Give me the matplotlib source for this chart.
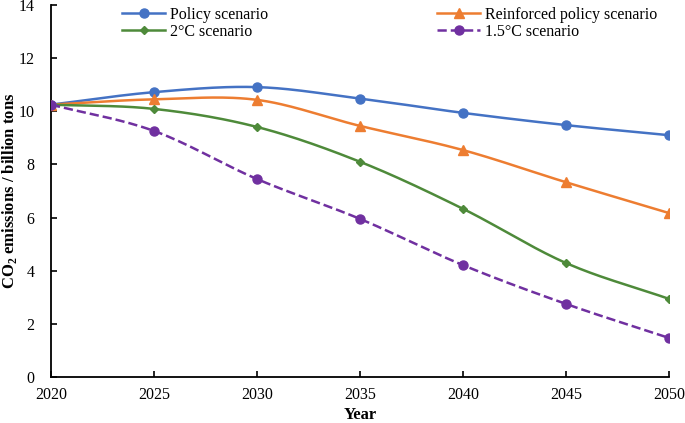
import numpy as np
import matplotlib
matplotlib.use('Agg')
import matplotlib.pyplot as plt

plt.rcParams['font.family'] = ['Liberation Serif', 'DejaVu Serif']
plt.rcParams['mathtext.fontset'] = 'custom'
plt.rcParams['mathtext.rm'] = 'Liberation Serif'
plt.rcParams['mathtext.bf'] = 'Liberation Serif:bold'

# data
years = [2020, 2025, 2030, 2035, 2040, 2045, 2050]
policy = [10.25, 10.72, 10.91, 10.48, 9.94, 9.48, 9.10]
reinforced = [10.25, 10.45, 10.43, 9.45, 8.54, 7.33, 6.17]
two_deg = [10.25, 10.09, 9.41, 8.10, 6.33, 4.29, 2.94]
one_five_deg = [10.25, 9.26, 7.45, 5.95, 4.21, 2.75, 1.47]


# smooth curve through the points (like Excel's smoothed line)
def smooth(x, y, n=30):
    x = np.asarray(x, float)
    y = np.asarray(y, float)
    px = np.concatenate([[2 * x[0] - x[1]], x, [2 * x[-1] - x[-2]]])
    py = np.concatenate([[2 * y[0] - y[1]], y, [2 * y[-1] - y[-2]]])
    xs, ys = [], []
    for i in range(1, len(px) - 2):
        t = np.linspace(0, 1, n, endpoint=False)
        for arr, out in ((px, xs), (py, ys)):
            p0, p1, p2, p3 = arr[i - 1], arr[i], arr[i + 1], arr[i + 2]
            out.append(0.5 * ((2 * p1) + (-p0 + p2) * t
                              + (2 * p0 - 5 * p1 + 4 * p2 - p3) * t ** 2
                              + (-p0 + 3 * p1 - 3 * p2 + p3) * t ** 3))
    xs.append([x[-1]])
    ys.append([y[-1]])
    return np.concatenate(xs), np.concatenate(ys)


fig = plt.figure(figsize=(6.85, 4.23), dpi=100)
ax = fig.add_axes([51 / 685, 46 / 423, 618 / 685, 372 / 423])

series = [
    ('Policy scenario', policy, '#4472C4', 'o', '-'),
    ('Reinforced policy scenario', reinforced, '#ED7D31', '^', '-'),
    ('2°C scenario', two_deg, '#4E8A3A', 'D', '-'),
    ('1.5°C scenario', one_five_deg, '#7030A0', 'o', '--'),
]

handles = {}
for label, vals, color, marker, ls in series:
    ms = 4.5 if marker == 'D' else 6.5
    sx, sy = smooth(years, vals)
    ax.plot(sx, sy, color=color, lw=1.8, ls=ls, zorder=2)
    ax.plot(years, vals, ls='none', marker=marker, color=color, ms=ms, zorder=3)
    h, = ax.plot([], [], color=color, lw=1.8, ls=ls, marker=marker, ms=ms)
    handles[label] = h

order = ['Policy scenario', '2°C scenario', 'Reinforced policy scenario', '1.5°C scenario']
leg = ax.legend([handles[k] for k in order], order, ncol=2, frameon=False,
                loc='upper left', bbox_to_anchor=(71 / 618, 0.995), fontsize=11.5,
                handlelength=2.7, columnspacing=10.6, labelspacing=0.05,
                handletextpad=0.3, borderaxespad=0, borderpad=0)

ax.set_xlim(2020, 2050)
ax.set_ylim(0, 14)
ax.set_xticks(years)
ax.set_yticks(range(0, 15, 2))
ax.tick_params(direction='in', labelsize=11.5, length=4, width=1.2)
ax.tick_params(axis='x', pad=7)
ax.tick_params(axis='y', pad=12)
ax.spines['top'].set_visible(False)
ax.spines['right'].set_visible(False)
for s in ['left', 'bottom']:
    ax.spines[s].set_linewidth(1.3)

ax.set_xlabel('Year', fontsize=12, fontweight='bold', labelpad=3)
ax.set_ylabel(r'CO$_\mathbf{2}$ emissions / billion tons', fontsize=12,
              fontweight='bold')
ax.yaxis.set_label_coords(-32 / 618, 0.5)

fig.savefig('out.png', dpi=100)
